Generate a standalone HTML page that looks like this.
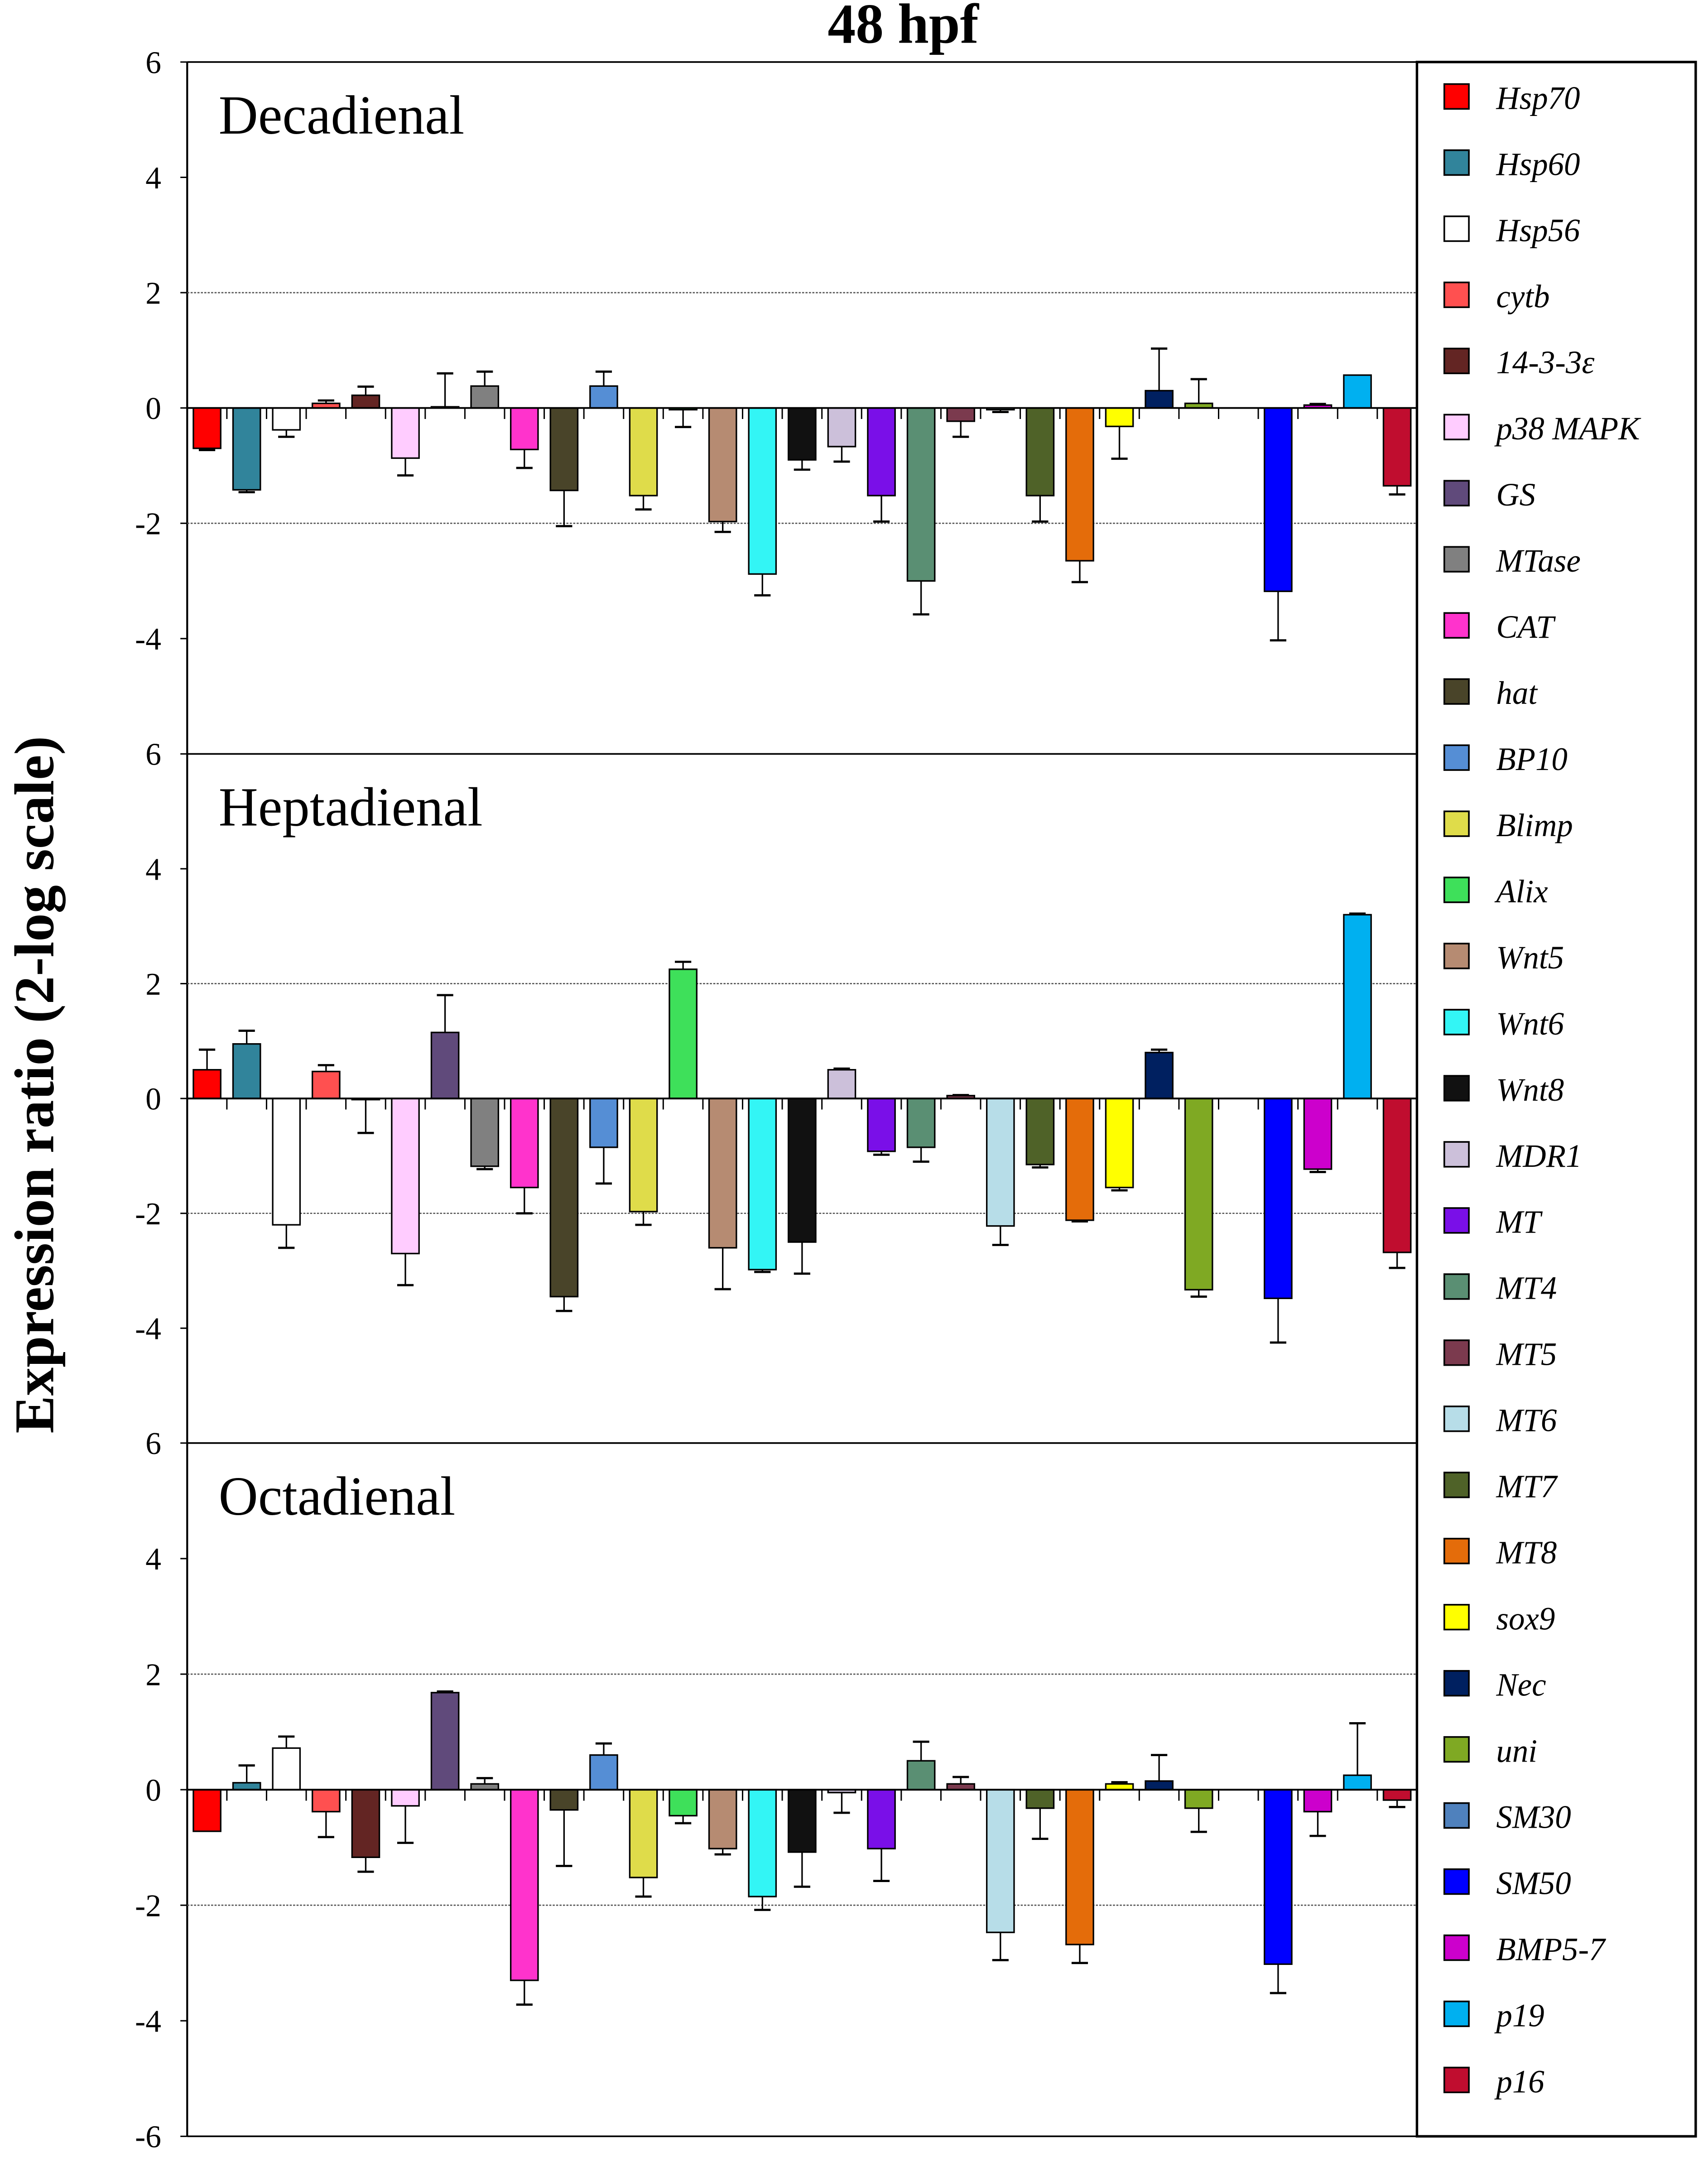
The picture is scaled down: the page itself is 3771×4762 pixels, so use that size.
<!DOCTYPE html>
<html><head><meta charset="utf-8">
<style>
html,body{margin:0;padding:0;background:#fff;}
svg{display:block;}
</style></head>
<body>
<svg id="chart" xmlns="http://www.w3.org/2000/svg" width="3771" height="4762" viewBox="0 0 1250 1565" preserveAspectRatio="none">
<rect x="0" y="0" width="1250" height="1565" fill="#fff"/>
<text x="661" y="31" text-anchor="middle" font-family="Liberation Serif, serif" font-weight="bold" font-size="41">48 hpf</text>
<text transform="translate(39,787) rotate(-90)" text-anchor="middle" font-family="Liberation Serif, serif" font-weight="bold" font-size="41">Expression ratio (2-log scale)</text>
<g id="plots"></g>
<g id="legend"></g>
</svg>
<script>
const genes = ["Hsp70","Hsp60","Hsp56","cytb","14-3-3\u03b5","p38 MAPK","GS","MTase","CAT","hat","BP10","Blimp","Alix","Wnt5","Wnt6","Wnt8","MDR1","MT","MT4","MT5","MT6","MT7","MT8","sox9","Nec","uni","SM30","SM50","BMP5-7","p19","p16"];
const colors = ["#ff0000","#31849b","#ffffff","#ff5050","#632523","#ffccff","#604a7b","#808080","#ff33cc","#494429","#558ed5","#dfdc4a","#3ee05a","#b68b72","#33f5f5","#111111","#ccc0da","#7a0fe8","#5a8f73","#7b3a4e","#b7dde8","#4f6228","#e46c0a","#ffff00","#002060","#7fa923","#4f81bd","#0000ff","#cc00cc","#00b0f0","#c00d2f"];
const panelNames = ["Decadienal","Heptadienal","Octadienal"];
const decaValues = [-0.7,-1.42,-0.38,0.08,0.22,-0.87,0.02,0.38,-0.72,-1.43,0.38,-1.52,-0.03,-1.97,-2.88,-0.9,-0.67,-1.52,-3.0,-0.23,-0.03,-1.52,-2.65,-0.32,0.3,0.08,0,-3.18,0.05,0.57,-1.35];
const decaErrEnd = [-0.73,-1.46,-0.5,0.13,0.37,-1.17,0.6,0.63,-1.04,-2.05,0.63,-1.76,-0.33,-2.15,-3.25,-1.07,-0.93,-1.97,-3.58,-0.5,-0.07,-1.97,-3.02,-0.88,1.03,0.5,0,-4.03,0.07,0.57,-1.5];
const heptaValues = [0.5,0.95,-2.2,0.47,-0.02,-2.7,1.15,-1.18,-1.55,-3.45,-0.85,-1.97,2.25,-2.6,-2.98,-2.5,0.5,-0.92,-0.85,0.05,-2.22,-1.15,-2.12,-1.55,0.8,-3.33,0,-3.48,-1.23,3.2,-2.68];
const heptaErrEnd = [0.85,1.18,-2.6,0.58,-0.6,-3.25,1.8,-1.23,-2.0,-3.7,-1.48,-2.2,2.38,-3.32,-3.02,-3.05,0.52,-0.98,-1.1,0.06,-2.55,-1.2,-2.14,-1.6,0.85,-3.45,0,-4.25,-1.28,3.22,-2.95];
const octaValues = [-0.72,0.12,0.72,-0.38,-1.17,-0.28,1.68,0.1,-3.3,-0.35,0.6,-1.52,-0.45,-1.02,-1.85,-1.08,-0.05,-1.02,0.5,0.1,-2.47,-0.32,-2.68,0.1,0.15,-0.32,0,-3.02,-0.38,0.25,-0.18];
const octaErrEnd = [-0.72,0.42,0.92,-0.82,-1.42,-0.92,1.7,0.2,-3.72,-1.32,0.8,-1.85,-0.58,-1.12,-2.08,-1.68,-0.4,-1.58,0.83,0.22,-2.95,-0.85,-3.0,0.13,0.6,-0.73,0,-3.52,-0.8,1.15,-0.3];
const yTicks = [6,4,2,0,-2,-4];
const allValues = [decaValues,heptaValues,octaValues];
const allErr = [decaErrEnd,heptaErrEnd,octaErrEnd];

const NS="http://www.w3.org/2000/svg";
function mk(tag,attrs,parent){const e=document.createElementNS(NS,tag);for(const k in attrs)e.setAttribute(k,attrs[k]);parent.appendChild(e);return e;}
const plots=document.getElementById('plots');
const X0=137,X1=1037,panelTop=[45,547,1047],panelH=[502,500,503];
const catW=(X1-X0)/genes.length;
function xCenter(i){return X0+catW*(i+0.5);}
const serif="'Liberation Serif', serif";

const ax=mk('line',{x1:X0,y1:45,x2:X0,y2:1550,stroke:'#000','stroke-width':1.4},plots);


mk('line',{x1:X0,y1:45,x2:X1,y2:45,stroke:'#000','stroke-width':1.2},plots);
mk('line',{x1:X0,y1:1550,x2:X1,y2:1550,stroke:'#000','stroke-width':1.2},plots);

for(let p=0;p<3;p++){
  const top=panelTop[p],h=panelH[p];
  const y=v=>top+(6-v)/12*h;
  const g=mk('g',{},plots);
  
  
  if(p>0) mk('line',{x1:X0,y1:top,x2:X1,y2:top,stroke:'#000','stroke-width':1.2},g);
  [2,-2].forEach(v=>{mk('line',{x1:X0,y1:y(v),x2:X1,y2:y(v),stroke:'#555','stroke-width':0.9,'stroke-dasharray':'1.5,1'},g);});
  const ticks=p===2?yTicks.concat([-6]):yTicks;
  ticks.forEach(v=>{
    const t=mk('text',{x:118,y:y(v)+8,'text-anchor':'end','font-family':serif,'font-size':23},g);
    t.textContent=String(v);
    
    
    mk('line',{x1:X0-5,y1:y(v),x2:X0,y2:y(v),stroke:'#000','stroke-width':1},g);
  });
  const lbl=mk('text',{x:160,y:top+52,'font-family':serif,'font-size':40},g);
  lbl.textContent=panelNames[p];
  
  
  const vals=allValues[p],errs=allErr[p];
  const y0=y(0);
  for(let i=0;i<genes.length;i++){
    const cx=xCenter(i),bw=20;
    if(errs[i]!==vals[i]){
      mk('line',{x1:cx,y1:y(vals[i]),x2:cx,y2:y(errs[i]),stroke:'#000','stroke-width':1.1},g);
      mk('line',{x1:cx-6,y1:y(errs[i]),x2:cx+6,y2:y(errs[i]),stroke:'#000','stroke-width':1.6},g);
    }
    const yv=y(vals[i]);
    const r=mk('rect',{x:cx-bw/2,y:Math.min(yv,y0),width:bw,height:Math.max(Math.abs(yv-y0),0.01),fill:colors[i],stroke:'#000','stroke-width':1.1},g);
    
    
  }
  mk('line',{x1:X0,y1:y0,x2:X1,y2:y0,stroke:'#000','stroke-width':1.3},g);
  for(let i=1;i<genes.length;i++){
    mk('line',{x1:X0+catW*i,y1:y0,x2:X0+catW*i,y2:y0+8,stroke:'#000','stroke-width':1},g);
  }
}

const lg=document.getElementById('legend');
const box=mk('rect',{x:1037,y:45,width:204,height:1505,fill:'#fff',stroke:'#000','stroke-width':1.8},lg);


for(let i=0;i<genes.length;i++){
  const ly=70+i*47.97;
  const e=mk('g',{},lg);
  
  
  mk('rect',{x:1057,y:ly-9,width:18,height:18,fill:colors[i],stroke:'#000','stroke-width':1.2},e);
  const t=mk('text',{x:1095,y:ly+9,'font-family':serif,'font-style':'italic','font-size':23.5},e);
  t.textContent=genes[i];
}
</script>
</body></html>
